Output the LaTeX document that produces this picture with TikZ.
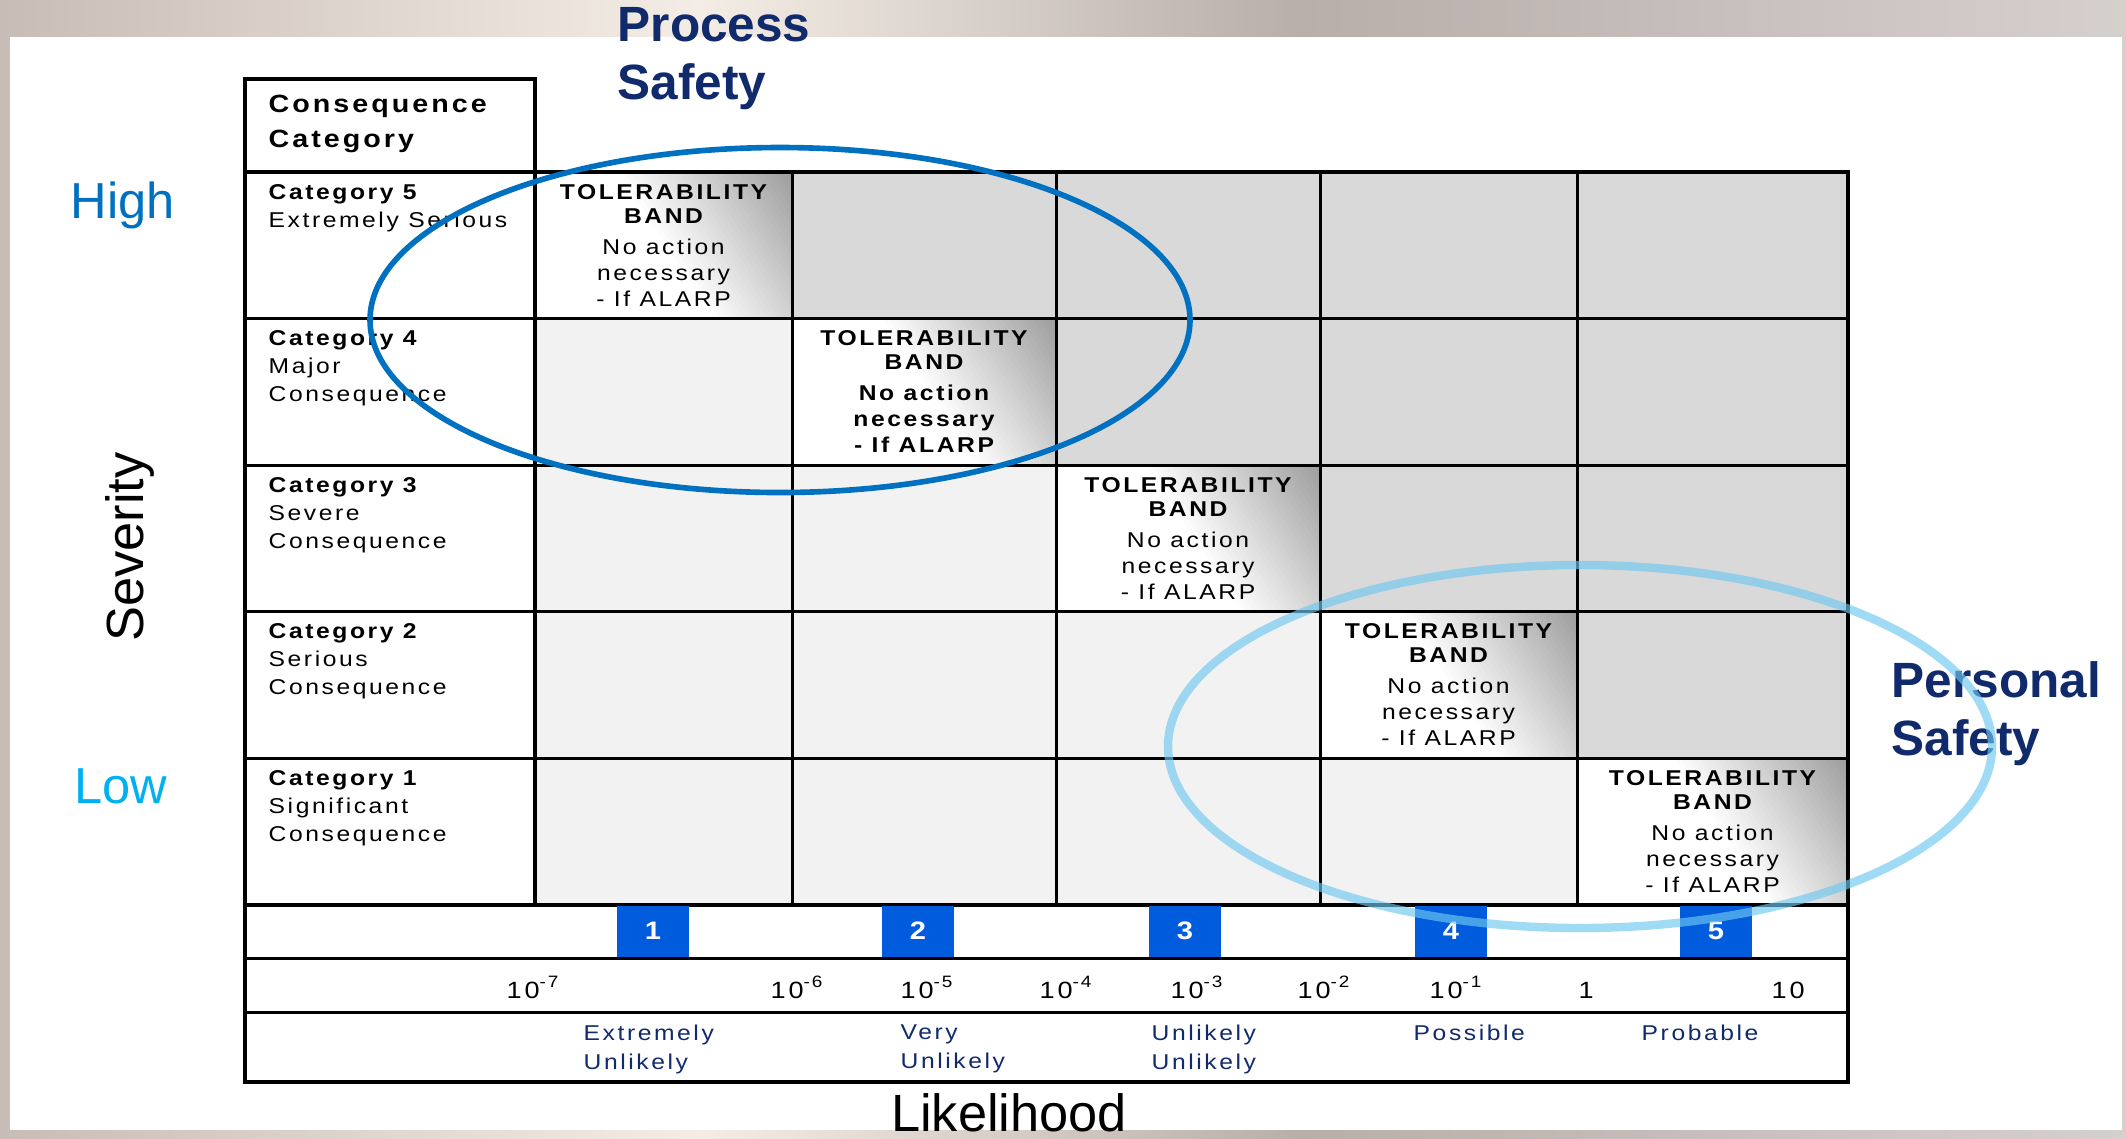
\documentclass[tikz,border=0pt]{standalone}
\usepackage{fontspec}
\setmainfont{Liberation Sans}
\newfontfamily\spaced[FakeStretch=1.15, LetterSpace=12]{Liberation Sans}
\usetikzlibrary{positioning}

\definecolor{hiband}{RGB}{217,217,217}
\definecolor{loband}{RGB}{242,242,242}
\definecolor{navy}{RGB}{16,42,108}
\definecolor{procblue}{RGB}{0,112,192}
\definecolor{persblue}{RGB}{110,200,240}
\definecolor{numblue}{RGB}{0,92,220}
\definecolor{lowcyan}{RGB}{0,176,240}
\definecolor{photoa}{RGB}{200,188,182}
\definecolor{photob}{RGB}{244,237,229}
\definecolor{photoc}{RGB}{184,174,170}
\definecolor{photod}{RGB}{214,208,204}

\tikzstyle{catcell}=[anchor=north west, inner sep=0pt, align=left, font=\spaced\fontsize{6.1}{8}\selectfont]
\tikzstyle{bandtitle}=[anchor=north, inner sep=0pt, align=center, font=\spaced\bfseries\fontsize{6.1}{6.8}\selectfont]
\tikzstyle{bandbody}=[bandtitle, font=\spaced\fontsize{6.1}{7.5}\selectfont]
\tikzstyle{bandbold}=[bandtitle, font=\spaced\bfseries\fontsize{6.1}{7.5}\selectfont]
\tikzstyle{numbox}=[fill=numblue, text=white, minimum width=7.2mm, minimum height=5.1mm, inner sep=0pt, font=\spaced\bfseries\fontsize{7.2}{8}\selectfont]
\tikzstyle{expo}=[anchor=base west, inner sep=0pt, font=\spaced\fontsize{6.7}{7}\selectfont]
\tikzstyle{likword}=[catcell, text=navy, font=\spaced\fontsize{6.1}{8.25}\selectfont]
\tikzstyle{axislbl}=[inner sep=0pt, font=\fontsize{14.9}{16}\selectfont]
\tikzstyle{safety}=[anchor=north west, inner sep=0pt, align=left, text=navy, font=\bfseries\fontsize{14.1}{16.5}\selectfont]
\tikzstyle{gridline}=[line width=0.85pt]
\tikzstyle{borderline}=[line width=1.4pt]
\def\gridright{1848}
\def\gridleft{245}
\def\fadedist{150}

\begin{document}
\begin{tikzpicture}[x=0.1mm,y=-0.1mm]
	\useasboundingbox (0,0) rectangle (2126,1138);
	% Backdrop and page
	\shade[left color=photoa, right color=photob] (0,0) rectangle (700,1138);
	\shade[left color=photob, right color=photoc] (700,0) rectangle (1300,1138);
	\shade[left color=photoc, right color=photod] (1300,0) rectangle (2126,1138);
	\fill[white] (10,37) rectangle (2122,1130);

	% Fill the cells of the matrix
	\fill[loband] (535,172) rectangle (\gridright,905);
	\foreach \xa/\ya/\yb in {792/172/318, 1056/318/465, 1320/465/611, 1577/611/758}
		\fill[hiband] (\xa,\ya) rectangle (\gridright,\yb);
	\foreach \xa/\xb/\ya/\yb/\bw [count=\k] in {535/792/172/318/bandbody, 792/1056/318/465/bandbold, 1056/1320/465/611/bandbody, 1320/1577/611/758/bandbody, 1577/1848/758/905/bandbody}
	{
		\begin{scope}
			\clip (\xa,\ya) rectangle (\xb,\yb);
			\fill[white] (\xa,\ya) rectangle (\xb,\yb);
			% grey fades in towards the upper right corner
			\foreach \d in {150,145,...,5} {
				\pgfmathsetmacro\sh{39*(1-\d/\fadedist)}
				\fill[black!\sh, shift={(\xb,\ya)}, rotate=33] (-\d,-400) rectangle (60,400);
			}
		\end{scope}
		\node (band_title_\k)[bandtitle] at ({(\xa+\xb)/2},\ya+12) {TOLERABILITY\\BAND};
		\node (band_body_\k)[\bw] at ({(\xa+\xb)/2},\ya+66) {No action\\necessary\\- If ALARP};
	}

	% Define the lines of the table
	\foreach \y in {318,465,611,758,958,1012}
		\draw [gridline] (\gridleft,\y) -- (\gridright,\y);
	\foreach \x in {792,1056,1320,1577}
		\draw [gridline] (\x,172) -- (\x,905);
	\draw [line width=1.2pt] (535,79) -- (535,905);
	\draw [borderline] (\gridleft,905) -- (\gridright,905);
	\draw [borderline] (\gridleft,172) rectangle (\gridright,1082);
	\draw [borderline] (\gridleft,79) rectangle (535,172);

	% Define the nodes of the first column
	\node (cons_cat)[catcell, font=\spaced\bfseries\fontsize{7.1}{10}\selectfont] at (268,94) {Consequence\\Category};
	\foreach \ya/\ct [count=\k] in {172/{\textbf{Category 5}\\Extremely Serious}, 318/{\textbf{Category 4}\\Major\\Consequence}, 465/{\textbf{Category 3}\\Severe\\Consequence}, 611/{\textbf{Category 2}\\Serious\\Consequence}, 758/{\textbf{Category 1}\\Significant\\Consequence}}
		\node (cat_\k)[catcell] at (268,\ya+12) {\ct};

	% Define the likelihood scale
	\foreach \cx [count=\k] in {653,918,1185,1451,1716}
		\node (num_\k)[numbox] at (\cx,931) {\k};
	\foreach \ex/\e [count=\k] in {506/-7, 770/-6, 900/-5, 1039/-4, 1170/-3, 1297/-2, 1429/-1}
		\node (exp_\k)[expo] at (\ex,998) {10\textsuperscript{\e}};
	\node (exp_one)[expo] at (1578,998) {1};
	\node (exp_ten)[expo] at (1771,998) {10};
	\foreach \lx/\lt [count=\k] in {583/{Extremely\\Unlikely}, 900/{Very\\Unlikely}, 1151/{Unlikely\\Unlikely}, 1413/Possible, 1641/Probable}
		\node (lik_\k)[likword] at (\lx,1024) {\lt};

	% Axis labels and safety areas
	\node (high_lbl)[axislbl, anchor=north west, text=procblue, font=\fontsize{14.4}{16}\selectfont] at (70,181) {High};
	\node (low_lbl)[axislbl, anchor=north west, text=lowcyan, font=\fontsize{14.4}{16}\selectfont] at (74,768) {Low};
	\node (sev_lbl)[axislbl, rotate=90, anchor=base] at (143,547) {Severity};
	\node (lik_lbl)[axislbl, anchor=base] at (1009,1131) {Likelihood};
	\node (proc_safety)[safety] at (617,7) {Process\\Safety};
	\node (pers_safety)[safety] at (1891,661) {Personal\\Safety};
	\draw [procblue, line width=1.6pt] (780,320) ellipse [x radius=410, y radius=172.5];
	\draw [persblue, opacity=0.65, line width=2.4pt] (1580,746.5) ellipse [x radius=412, y radius=181.5];
\end{tikzpicture}
\end{document}
